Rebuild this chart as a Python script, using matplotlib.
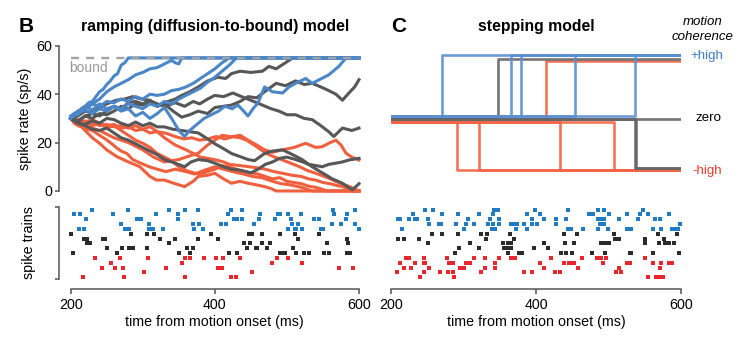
import matplotlib
matplotlib.use('Agg')
import matplotlib.pyplot as plt

# ---------------- data ----------------
bound = 55
# ramping model trajectories (time ms, rate sp/s)
blue_t = [
    [200,205,210,215,220,225,230,235,240,245,250,255,260,265,270,275,280,600],
    [200,210,220,230,240,250,260,270,280,290,300,310,320,330,340,345,350,354,600],
    [200,210,220,230,240,250,260,270,280,290,300,310,320,330,340,350,360,370,380,390,400,410,420,600],
    [200,210,220,230,240,250,260,270,280,290,300,310,320,330,340,350,360,370,380,390,400,410,420,430,600],
    [200,210,220,230,240,250,260,270,280,290,300,310,320,330,340,350,358,365,377,385,395,405,414,424,432,440,446,453,460,469,480,494,503,512,526,535,545,558,572,582,600],
]
blue_r = [
    [30,32,31.5,34,35,36.5,37,39,41,42,44,45.5,47.5,48.5,52,53,55,55],
    [30,32.5,34,36,38,41,43,44.5,46,48,49,50.5,51,52.5,54,53,52.5,55,55],
    [31,33,34,36,35,37,36.5,38,37,39,38,40,39.5,40,41.5,42,43,44.5,46.5,48.5,50.5,53,55,55],
    [30,32,33.5,32,34,33,35,34,36,35,34,36,35,37,36,38,39.5,41,42.5,45,47,49.5,52,55,55],
    [30,33,35,33.5,36,34,35,33,34,31,32.5,30,32,34.5,30,25,22.5,25,28,30,31.5,33,35,34,35.5,33,31,34,36.5,43,41,40.5,43,44.5,46.5,44.5,46,48,51.5,55,55],
]
gray_t = [
    [200,210,220,230,240,250,260,270,280,290,300,310,320,330,345,354,365,377,390,404,415,423,435,450,466,475,485,498,508,600],
    [200,210,220,230,240,250,260,270,280,290,300,310,320,330,342,354,365,377,390,400,412,423,435,446,458,469,485,498,512,524,535,547,558,568,577,586,594,600],
    [200,210,220,230,240,250,263,275,286,298,309,320,332,345,358,370,379,390,400,412,425,437,450,466,478,489,500,512,524,535,547,558,565,577,590,600],
    [200,210,220,230,240,250,260,270,280,290,300,310,320,330,342,354,365,377,390,400,412,423,437,446,455,469,480,494,508,521,535,549,563,577,585,591,600],
    [200,210,220,230,240,250,260,270,280,290,300,310,320,330,345,358,367,377,390,400,412,423,437,450,460,470,480,490,500,512,522,530,540,549,558,568,577,586,600],
]
gray_r = [
    [30,28.5,31,32,31,33,35,34,36.5,37,36,37.5,35,36.5,38,39.5,41,43,45.5,47,46.5,48.5,49.5,49,49.5,51.5,50.5,53,55,55],
    [30,29,31,30,32,31.5,33,35,34,36,35.5,37,35,36,33,30.5,31.5,33,32,34.5,35,35.5,37,39,38.5,41,44.5,43.5,45.5,44,44.5,43,41.5,40,37.5,40.5,43,46],
    [30,31,33,32.5,34.5,36,37.5,38,39,38,37.5,36,35,36.5,35,37,36,38,39.5,39,40.5,39,37.5,35.5,34,33,31.5,31.5,30,29.5,27,24.5,22.5,26,25,26],
    [30,28,27.5,29,28,30,29.5,28,27,28.5,27,28,26.5,26.5,25.5,25,24.5,24,21.5,19.5,17.5,15.5,14,13,12.5,15.5,16.5,17,15,13,10,7.5,5,3.2,1.5,0.5,3],
    [30,28,27,25.5,25,26,24,22,21,19.5,18,16.5,15,13,11.5,10,12,13,12.5,11.5,10,9,8.5,7.5,9,11,12,13.5,14,13,12,11,10.5,10,11,11.5,12,12.8,13.5],
]
red_t = [
    [200,205,210,215,220,225,230,240,250,264,280,296,310,319,330,345,358,370,377,390,400,412,423,435,446,458,469,478,485,600],
    [200,210,220,230,240,250,260,270,280,290,300,310,320,330,340,350,360,370,380,390,400,410,420,430,440,450,460,470,480,490,500,510,520,530,540,548,555,600],
    [200,210,220,230,240,250,260,270,280,290,300,310,320,333,345,357,368,379,390,402,414,425,435,444,457,471,483,494,505,517,528,540,552,564,575,587,600],
    [200,210,220,230,240,250,260,270,280,290,300,315,330,340,350,360,377,390,400,410,423,435,446,458,469,480,494,510,526,540,549,560,568,575,582,590,600],
    [200,210,220,230,240,250,260,270,280,290,300,310,320,330,345,360,370,380,390,402,412,420,435,448,460,470,482,494,507,520,530,540,550,560,570,577,585,591,600],
    [200,208,215,222,230,240,248,255,263,270,278,286,297,309,320,332,345,360,372,385,400,412,425,440,452,465,480,492,505,520,535,600],
]
red_r = [
    [30,28,27,26.5,25,23.5,22,19.7,17,14.2,12,10,6,4.5,4.5,3,1.8,4,6,6.5,7.3,5,3.2,4,3.2,2.5,1.8,1,0,0],
    [30,28,29,27,28,26,27,25,23,21,19.7,18,15.5,14,12.5,10,8.5,7.5,7,8,9,10.5,10,9,8,7.5,7,6,5,5.5,4,3.5,3,2,1.5,0.8,0,0],
    [30,29,28.5,29.5,28,27,27.5,26,26.5,25,25.5,24,24.5,23.8,22.5,21.5,22,21,21.5,22.5,21.5,22.4,22,21,18.5,15.6,14,12.8,11.5,10.1,8.5,7.3,6,4.5,3,1.8,0],
    [30,28,27,26,25,23.5,22,21,20,18.5,17,14,12,12.5,13,14,15.6,19,21,23,22.4,23,21,19,17,16,17,18,19.7,18,18.3,20,21,19,15.6,14,12.8],
    [30,29.5,28,28.5,27,27.5,26.5,27,26,27,25.5,26.6,24.5,22,19,17,15.5,14,13.5,12.8,12,11,10.5,10,9.5,9,8,7.3,6.5,6,5,4.5,3.5,3,2.2,1.8,1,0,0],
    [30,28.5,27,25.5,25,23,21.5,20,18,16.5,15.5,13,11.5,10,9,8,9,8,7,8.5,10,9,8,7,6,5.5,4,3,2.5,1.5,0,0],
]

# stepping model: step times (ms) and levels (sp/s)
step_blue_up = [271, 366, 379, 454, 536]
step_gray_up = [348]
step_gray_down = [536, 538]
step_gray_none = 1
step_red_down = [291, 321, 433, 507]
step_red_up = [414]
lev_blue = (31.1, 56.2)
lev_gray = (29.75, 54.5, 9.6)
lev_red = (28.6, 53.7, 8.55)

# spike rasters (ms); 5 trials per condition
ramp_blue_spk = [
    [229,280,336,359,376,423,438,564,595],
    [205,213,258,319,349,418,463,487,490,501,519,565,583],
    [221,292,297,349,426,431,437,461,483,505,538,544,582],
    [270,308,369,378,408,416,454,507,515,563,575,595],
    [211,218,275,281,308,314,328,371,384,501,511,513,521,547,550,600],
]
ramp_gray_spk = [
    [201,283,306,316,395,447,451,465,491,511,544],
    [219,223,245,247,324,345,376,405,515,583],
    [222,227,337,440,449,466,477,555,585],
    [251,271,281,287,306,362,370,444,457,459,473,509],
    [203,264,350,366,420,431,491,495,498,513,523,530,552,559,584,588],
]
ramp_red_spk = [
    [234,269,307,359,366,385,401,412,435,486,502],
    [256,354,479,521],
    [244,261,273,332,404,410,572,592],
    [302,451],
    [217,274,359,422,430],
]
step_blue_spk = [
    [247,258,342,348,399,444,486,494,548],
    [230,271,292,321,341,388,405,473,479,501,526,543,554,584],
    [210,213,225,233,236,251,306,336,349,394,411,427,442,486,488,494,515,540,564,571],
    [252,266,269,290,303,314,334,340,349,365,371,374,384,394,401,427,488,494,598],
    [215,301,339,344,373,387,444,448,465,486,499,526,531,561,572,588,593,596],
]
step_gray_spk = [
    [256,271,293,324,333,364,438,457,508,568,594],
    [209,218,238,331,370,509,515,551,576],
    [251,309,354,362,365,411,440,452,489,494,499,501,550,569,578,583,590],
    [294,322,356,362,365,397,416],
    [288,361,376,381,434,441,449,477,495,529,531,561,597],
]
step_red_spk = [
    [221,225,245,277,314,330,349,366,371,420,463,484,489,496,550],
    [212,233,245,247,280,286,304,309,344,406,438,445,449,453,493,526,529,561,573,583,588],
    [218,227,253,295,300,329,344,411,458,515,571],
    [208,246,268,278,286,324,384,395,426,433,510,517],
    [240,287,555,565,571,575],
]

xticks = [200, 400, 600]
yticks = [0, 20, 40, 60]

# ---------------- style ----------------
W, H = 751, 338
C_BLUE, C_GRAY, C_RED = '#4a86c8', '#575757', '#f0603f'
S_BLUE, S_GRAY, S_RED = '#5a8fd0', '#666666', '#f26446'
R_BLUE, R_GRAY, R_RED = '#1f7bc2', '#2b2b2b', '#e8262b'
SP = '#555555'

plt.rcParams['font.family'] = ['Liberation Sans', 'DejaVu Sans']
plt.rcParams['font.size'] = 10.3
plt.rcParams['axes.linewidth'] = 1.1
plt.rcParams['xtick.major.width'] = 1.1
plt.rcParams['ytick.major.width'] = 1.1

fig = plt.figure(figsize=(W / 100, H / 100), dpi=100)


def box(x0, y0, x1, y1):
    return [x0 / W, 1 - y1 / H, (x1 - x0) / W, (y1 - y0) / H]


def px2pt(p):
    return p * 0.72


axB = fig.add_axes(box(70.7, 43.4, 359.0, 194.6))
axC = fig.add_axes(box(391.0, 43.4, 681.0, 194.6))
rB = fig.add_axes(box(70.7, 205.8, 359.0, 280.2))
rC = fig.add_axes(box(391.0, 205.8, 681.0, 280.2))

for ax in (axB, axC):
    ax.set_xlim(200, 600)
    ax.set_ylim(-1.5, 61)
for ax in (rB, rC):
    ax.set_xlim(200, 600)
    ax.set_ylim(14.6, -0.8)
for ax in (axB, axC, rB, rC):
    for s in ax.spines.values():
        s.set_visible(False)
        s.set_color(SP)
    ax.set_xticks([])
    ax.set_yticks([])
    ax.patch.set_alpha(0)

# ---- ramping trajectories
LW = 2.2
for ts, rs in zip(red_t, red_r):
    axB.plot(ts, rs, color=C_RED, lw=LW, solid_joinstyle='round', clip_on=False)
for ts, rs in zip(gray_t, gray_r):
    axB.plot(ts, rs, color=C_GRAY, lw=LW, solid_joinstyle='round', clip_on=False)
for ts, rs in zip(blue_t, blue_r):
    axB.plot(ts, rs, color=C_BLUE, lw=LW, solid_joinstyle='round', clip_on=False)
axB.plot([200, 600], [bound, bound], color='#a3a3a3', lw=1.7, dashes=(3.4, 3.0))

axB.spines['left'].set_visible(True)
axB.spines['left'].set_bounds(0, 60)
axB.spines['left'].set_position(('outward', px2pt(11.4)))
axB.set_yticks(yticks)
axB.tick_params(axis='y', length=3.2, pad=2, colors=SP, labelcolor='black', labelsize=10.3)
axB.set_ylabel('spike rate (sp/s)', fontsize=10.3, labelpad=3)

# ---- stepping trajectories
SLW = 1.9
for ts in step_red_down:
    axC.plot([200, ts, ts, 600], [lev_red[0], lev_red[0], lev_red[2], lev_red[2]],
             color=S_RED, lw=SLW, alpha=0.9)
for ts in step_red_up:
    axC.plot([200, ts, ts, 600], [lev_red[0], lev_red[0], lev_red[1], lev_red[1]],
             color=S_RED, lw=SLW, alpha=0.9)
for ts in step_gray_up:
    axC.plot([200, ts, ts, 600], [lev_gray[0], lev_gray[0], lev_gray[1], lev_gray[1]],
             color=S_GRAY, lw=SLW, alpha=0.9)
for ts in step_gray_down:
    axC.plot([200, ts, ts, 600], [lev_gray[0], lev_gray[0], lev_gray[2], lev_gray[2]],
             color=S_GRAY, lw=SLW, alpha=0.9)
for _ in range(step_gray_none):
    axC.plot([200, 600], [lev_gray[0], lev_gray[0]], color=S_GRAY, lw=SLW, alpha=0.9)
for ts in step_blue_up:
    axC.plot([200, ts, ts, 600], [lev_blue[0], lev_blue[0], lev_blue[1], lev_blue[1]],
             color=S_BLUE, lw=SLW, alpha=0.9)

# ---- rasters
MS = 2.5


def raster(ax, groups):
    row = 0
    for rows, col in groups:
        for spikes in rows:
            ax.plot(spikes, [row] * len(spikes), linestyle='none', marker='s',
                    markersize=MS, markeredgewidth=0, color=col, clip_on=False)
            row += 1


raster(rB, [(ramp_blue_spk, R_BLUE), (ramp_gray_spk, R_GRAY), (ramp_red_spk, R_RED)])
raster(rC, [(step_blue_spk, R_BLUE), (step_gray_spk, R_GRAY), (step_red_spk, R_RED)])

rB.spines['left'].set_visible(True)
rB.spines['left'].set_bounds(-0.62, 14.29)
rB.spines['left'].set_position(('outward', px2pt(11.7)))
rB.set_yticks([-0.62, 14.29])
rB.set_yticklabels([])
rB.tick_params(axis='y', length=3.0, colors=SP)
rB.set_ylabel('spike trains', fontsize=10.3, labelpad=10)

for ax in (rB, rC):
    ax.spines['bottom'].set_visible(True)
    ax.spines['bottom'].set_bounds(200, 600)
    ax.spines['bottom'].set_position(('outward', px2pt(9.1)))
    ax.set_xticks(xticks)
    ax.tick_params(axis='x', length=3.6, pad=3, colors=SP, labelcolor='black', labelsize=10.3)
    ax.set_xlabel('time from motion onset (ms)', fontsize=10.3, labelpad=2)

# ---- texts
def T(x, y, s, **kw):
    fig.text(x / W, 1 - y / H, s, **kw)


T(19, 26, 'B', fontsize=15, fontweight='bold', va='center', ha='left',
  family=['Liberation Sans Narrow', 'Liberation Sans', 'DejaVu Sans'])
T(391, 26, 'C', fontsize=15, fontweight='bold', va='center', ha='left',
  family=['Liberation Sans Narrow', 'Liberation Sans', 'DejaVu Sans'])
T(215, 26, 'ramping (diffusion-to-bound) model', fontsize=11.3, fontweight='bold',
  va='center', ha='center')
T(536, 26, 'stepping model', fontsize=11.3, fontweight='bold', va='center', ha='center')
T(703, 22, 'motion', fontsize=9.5, style='italic', va='center', ha='center')
T(703, 37, 'coherence', fontsize=9.5, style='italic', va='center', ha='center')
T(690, 56, '+high', fontsize=9.6, color='#3d7fc6', va='center', ha='left')
T(695, 118, 'zero', fontsize=9.6, color='black', va='center', ha='left')
T(692, 171, '-high', fontsize=9.6, color='#ef3b2c', va='center', ha='left')
T(69, 68.5, 'bound', fontsize=10, color='#9a9a9a', va='center', ha='left')

fig.savefig('out.png', dpi=100)
